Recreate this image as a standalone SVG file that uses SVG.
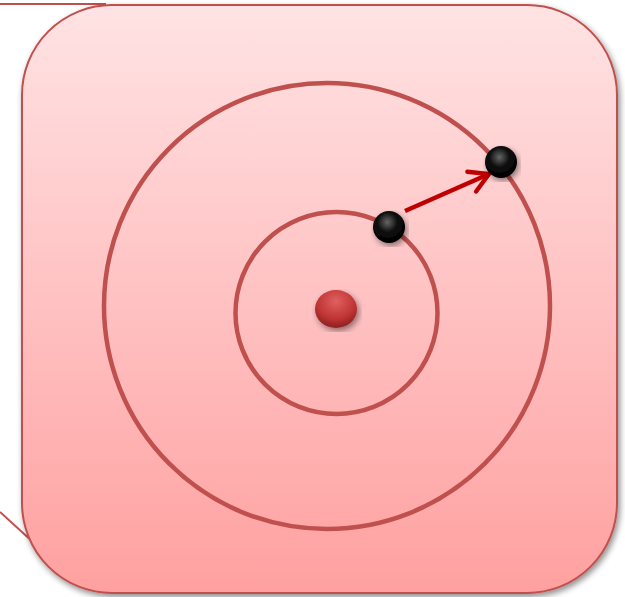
<svg xmlns="http://www.w3.org/2000/svg" width="625" height="597" viewBox="0 0 625 597">
<defs>
<linearGradient id="bg" x1="0" y1="0" x2="0" y2="1">
<stop offset="0" stop-color="#ffe3e4"/>
<stop offset="1" stop-color="#ffa0a0"/>
</linearGradient>
<radialGradient id="blk" cx="0.45" cy="0.35" r="0.6">
<stop offset="0" stop-color="#666"/>
<stop offset="0.5" stop-color="#111"/>
<stop offset="1" stop-color="#000"/>
</radialGradient>
<radialGradient id="red" cx="0.5" cy="0.3" r="0.65">
<stop offset="0" stop-color="#e06060"/>
<stop offset="0.7" stop-color="#c03434"/>
<stop offset="1" stop-color="#962424"/>
</radialGradient>
<filter id="sh" x="-10%" y="-10%" width="120%" height="120%">
<feGaussianBlur in="SourceAlpha" stdDeviation="3"/>
<feOffset dx="2" dy="3"/>
<feComponentTransfer><feFuncA type="linear" slope="0.45"/></feComponentTransfer>
<feMerge><feMergeNode/><feMergeNode in="SourceGraphic"/></feMerge>
</filter>
<marker id="ah" viewBox="0 0 10 10" refX="8" refY="5" markerWidth="6" markerHeight="6" orient="auto" markerUnits="strokeWidth">
<path d="M1,1 L8,5 L1,9" fill="none" stroke="#c00000" stroke-width="1.6" stroke-linecap="round"/>
</marker>
<style>
.orb{fill:none;stroke:#c0504d;stroke-width:4.5}
.ln{stroke:#c0504d;stroke-width:2;fill:none}
</style>
</defs>
<g id="callout">
<line class="ln" x1="0" y1="4" x2="106" y2="4"/>
<line class="ln" x1="0" y1="512" x2="34" y2="543"/>
</g>
<g id="panel">
<rect x="22" y="5" width="595" height="588" rx="90" ry="90" fill="url(#bg)" stroke="#c0504d" stroke-width="2" filter="url(#sh)"/>
</g>
<g id="orbits">
<circle class="orb" cx="327" cy="306" r="223"/>
<circle class="orb" cx="336.5" cy="313" r="101"/>
</g>
<g id="nucleus">
<ellipse cx="336" cy="309" rx="21" ry="19" fill="url(#red)" filter="url(#sh)"/>
</g>
<g id="connectors">
<line x1="405" y1="211" x2="489" y2="174" stroke="#c00000" stroke-width="4.5" marker-end="url(#ah)"/>
</g>
<g id="electron1">
<circle cx="389" cy="227" r="16" fill="url(#blk)" filter="url(#sh)"/>
</g>
<g id="electron2">
<circle cx="501" cy="162" r="16" fill="url(#blk)" filter="url(#sh)"/>
</g>
</svg>
